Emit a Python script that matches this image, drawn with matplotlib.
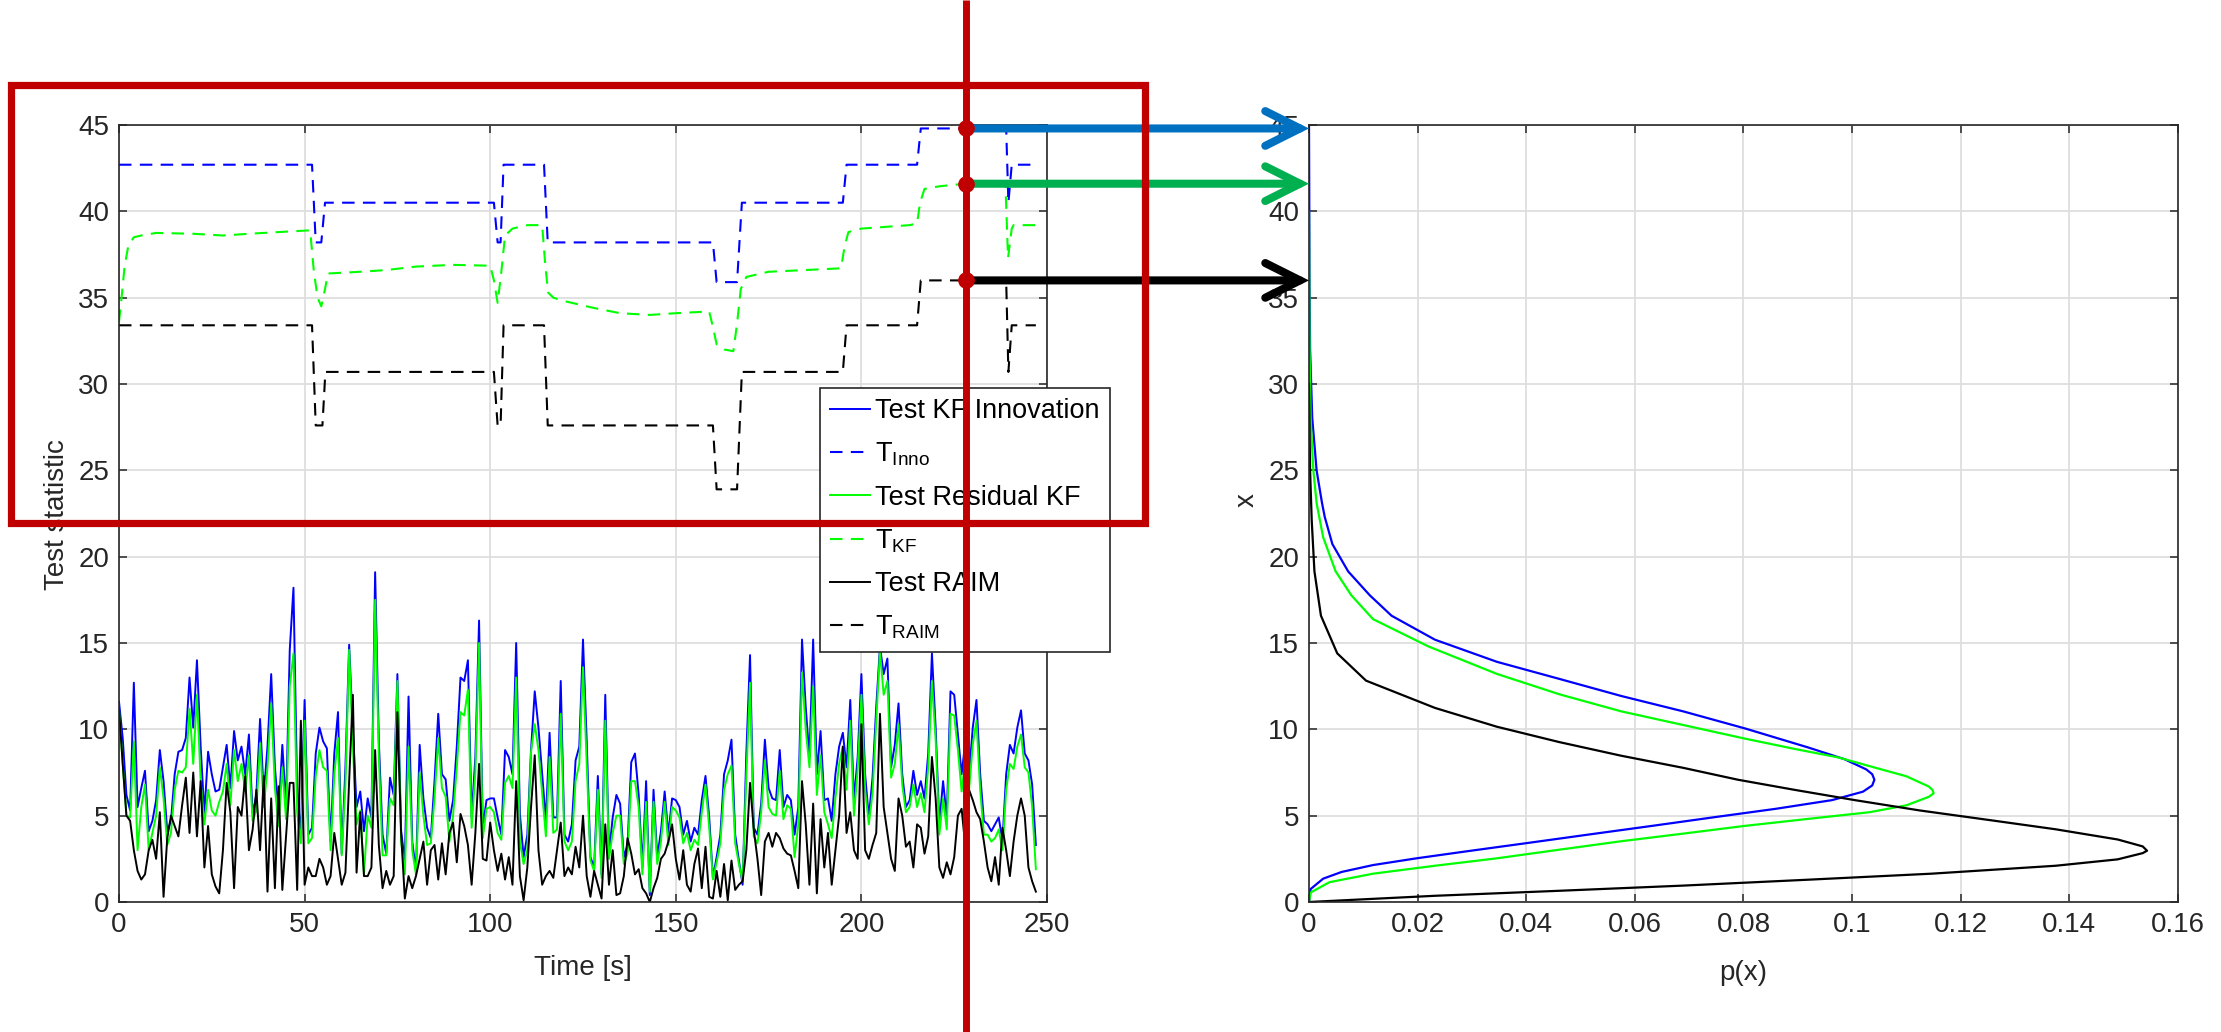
import numpy as np
import matplotlib
matplotlib.use("Agg")
import matplotlib.pyplot as plt
from matplotlib.patches import Rectangle, FancyArrowPatch

# ------------------------------------------------------------------ data
time_s = np.arange(0, 248)

test_inno = [
    11.6, 9.5, 6.2, 5.3, 12.7, 5.5, 6.6, 7.6, 4.1, 4.7,
    5.9, 8.8, 7.0, 4.1, 4.7, 7.4, 8.7, 8.8, 9.5, 13.0,
    10.1, 14.0, 9.0, 5.1, 8.7, 7.4, 6.4, 6.5, 7.8, 9.1,
    6.6, 9.9, 8.2, 9.0, 7.4, 9.7, 5.1, 6.2, 10.6, 6.2,
    9.0, 13.2, 7.8, 5.1, 9.1, 5.5, 14.6, 18.2, 6.4, 3.9,
    11.7, 3.9, 4.3, 8.6, 10.1, 9.3, 8.9, 3.5, 8.6, 11.0,
    2.8, 7.8, 14.9, 10.0, 5.5, 6.4, 4.1, 6.0, 4.9, 19.1,
    9.3, 3.9, 2.8, 7.2, 6.2, 13.2, 4.1, 2.4, 11.9, 3.5,
    1.8, 9.1, 6.0, 4.3, 3.7, 7.0, 10.9, 7.4, 7.1, 4.7,
    5.9, 9.0, 13.0, 12.8, 14.0, 4.9, 8.4, 16.3, 4.3, 5.9,
    6.0, 6.0, 4.9, 3.9, 8.8, 8.4, 7.4, 15.0, 5.1, 2.6,
    3.9, 8.8, 12.2, 10.1, 7.4, 4.7, 9.8, 4.9, 4.9, 12.8,
    3.9, 3.5, 4.5, 8.2, 9.0, 15.2, 9.3, 2.6, 2.0, 7.3,
    1.6, 12.0, 2.8, 4.9, 6.2, 5.7, 2.6, 3.3, 8.1, 8.6,
    6.2, 2.0, 7.0, 0.4, 6.5, 2.6, 4.1, 6.4, 3.9, 6.0,
    5.9, 5.5, 3.9, 4.7, 3.5, 4.3, 3.9, 5.9, 7.3, 4.9,
    1.4, 2.6, 3.9, 7.4, 8.2, 9.4, 3.9, 2.4, 1.0, 8.6,
    14.3, 4.3, 3.9, 5.7, 9.4, 6.6, 6.0, 5.9, 8.8, 5.5,
    6.2, 5.9, 3.9, 5.5, 15.2, 11.3, 8.4, 15.2, 7.4, 9.9,
    5.9, 6.0, 4.7, 7.4, 9.0, 9.8, 7.8, 11.7, 5.9, 8.4,
    13.2, 7.4, 4.9, 7.2, 11.3, 14.8, 13.2, 14.1, 7.8, 9.1,
    11.5, 7.4, 5.5, 5.9, 7.6, 6.2, 7.0, 6.0, 8.6, 14.4,
    10.1, 4.5, 7.0, 4.9, 12.2, 12.0, 9.7, 7.4, 9.3, 7.4,
    10.1, 11.7, 7.4, 4.7, 4.5, 4.1, 4.5, 4.9, 3.5, 7.4,
    9.1, 8.6, 10.1, 11.1, 8.6, 8.2, 6.8, 3.3,
]

test_kf = [
    11.2, 8.0, 5.0, 4.9, 9.3, 3.0, 5.5, 6.8, 3.0, 4.0,
    5.0, 7.8, 6.0, 3.3, 4.0, 6.5, 7.6, 7.5, 7.8, 11.2,
    8.0, 12.0, 7.0, 4.5, 6.5, 5.3, 5.0, 5.8, 6.4, 8.0,
    5.6, 8.8, 7.0, 8.0, 6.4, 8.5, 4.7, 5.3, 9.2, 5.5,
    7.8, 11.5, 6.6, 4.4, 7.8, 4.8, 12.5, 14.4, 5.2, 3.4,
    10.5, 3.4, 3.7, 7.3, 8.8, 7.8, 7.6, 3.0, 7.4, 9.5,
    2.7, 6.8, 14.6, 9.0, 4.5, 5.3, 1.6, 5.0, 4.3, 17.5,
    8.4, 2.7, 2.7, 6.0, 5.6, 12.8, 3.5, 1.6, 9.0, 3.0,
    1.6, 7.5, 5.0, 3.3, 3.4, 6.0, 9.5, 6.6, 6.1, 3.5,
    5.0, 7.8, 11.0, 10.8, 12.3, 4.3, 7.5, 15.0, 3.7, 5.4,
    5.5, 5.2, 4.0, 3.6, 6.9, 7.3, 6.6, 13.0, 3.5, 2.2,
    3.0, 8.7, 10.3, 8.8, 6.3, 3.8, 8.4, 4.0, 4.2, 10.9,
    3.5, 3.0, 3.5, 7.0, 8.0, 13.6, 8.0, 2.4, 1.8, 6.5,
    1.4, 10.5, 2.5, 4.0, 5.0, 5.0, 2.2, 2.8, 7.0, 7.0,
    5.5, 1.6, 5.8, 0.6, 5.8, 2.2, 3.5, 5.8, 3.3, 5.5,
    5.3, 4.9, 3.4, 4.0, 3.0, 3.6, 3.3, 5.2, 6.8, 4.3,
    1.3, 2.3, 3.4, 6.5, 7.4, 7.9, 3.4, 2.2, 1.2, 7.3,
    12.7, 3.8, 3.4, 5.2, 8.2, 5.5, 5.1, 5.0, 7.6, 4.8,
    5.6, 5.4, 2.6, 4.5, 13.3, 10.0, 7.8, 12.5, 6.2, 8.5,
    5.2, 4.5, 3.7, 6.0, 8.0, 9.0, 6.5, 10.5, 5.0, 7.7,
    12.0, 6.5, 4.5, 6.3, 10.5, 14.5, 12.0, 12.8, 7.2, 8.0,
    10.3, 6.8, 5.2, 5.5, 6.8, 5.5, 6.3, 5.2, 7.8, 12.8,
    9.4, 3.9, 6.0, 4.2, 10.9, 10.8, 8.8, 6.4, 8.2, 6.5,
    9.1, 10.5, 6.5, 3.9, 3.9, 3.5, 3.7, 4.2, 3.0, 6.5,
    8.0, 7.7, 9.0, 9.7, 7.8, 7.5, 5.5, 1.9,
]

test_raim = [
    11.2, 8.0, 5.0, 4.7, 3.0, 1.8, 1.3, 1.6, 3.0, 3.6,
    2.5, 5.2, 0.3, 3.7, 5.0, 4.4, 3.8, 5.6, 7.2, 4.0,
    7.5, 3.8, 7.0, 2.0, 4.4, 1.6, 0.9, 0.5, 3.0, 6.9,
    5.2, 0.8, 5.5, 5.0, 7.3, 3.0, 4.2, 6.5, 3.0, 7.3,
    0.6, 6.0, 0.8, 6.7, 0.7, 3.8, 6.9, 6.9, 0.7, 10.5,
    1.0, 2.0, 1.5, 1.5, 2.5, 2.0, 1.0, 1.5, 4.0, 2.5,
    1.0, 1.7, 7.0, 12.0, 1.7, 5.2, 1.5, 1.5, 2.0, 8.8,
    3.3, 0.8, 1.8, 1.0, 1.5, 11.0, 4.0, 0.2, 1.5, 0.8,
    1.5, 2.5, 3.5, 1.0, 3.0, 3.3, 1.3, 3.4, 1.6, 4.0,
    4.6, 2.3, 5.1, 4.4, 3.3, 1.0, 4.0, 8.0, 2.5, 2.4,
    4.6, 3.0, 1.8, 2.8, 1.3, 2.6, 1.0, 7.0, 1.5, 0.1,
    2.0, 5.5, 8.5, 3.0, 1.0, 1.5, 1.8, 1.4, 3.0, 4.6,
    1.5, 2.0, 1.6, 3.2, 2.0, 5.0, 1.5, 0.3, 1.8, 1.0,
    0.2, 4.5, 1.0, 3.0, 0.4, 0.5, 1.5, 3.7, 2.8, 1.6,
    1.9, 0.8, 0.5, 0.0, 0.8, 1.4, 2.5, 2.8, 3.5, 4.5,
    2.5, 1.3, 3.0, 1.0, 0.6, 2.2, 3.1, 0.8, 3.2, 0.3,
    0.2, 1.8, 0.3, 2.2, 0.1, 2.4, 0.7, 1.0, 1.2, 3.0,
    6.9, 4.2, 2.5, 0.4, 3.5, 4.0, 3.2, 4.0, 3.7, 3.1,
    2.8, 2.7, 1.8, 0.8, 7.0, 4.5, 1.0, 5.7, 0.5, 4.8,
    2.0, 4.0, 1.0, 3.0, 5.0, 9.0, 4.0, 5.2, 3.0, 2.5,
    10.3, 3.0, 2.5, 3.3, 4.0, 10.9, 5.5, 4.0, 2.5, 1.8,
    6.0, 5.0, 3.2, 3.5, 2.0, 4.5, 4.3, 2.8, 3.8, 8.4,
    6.0, 2.0, 1.4, 2.3, 1.6, 2.6, 5.0, 5.4, 3.2, 6.5,
    5.9, 5.2, 4.8, 3.5, 2.0, 1.2, 2.6, 1.0, 4.3, 3.0,
    1.5, 3.5, 5.0, 6.0, 5.0, 2.0, 1.2, 0.6,
]

thr_inno_t = [0, 52, 53, 54.5, 55.5, 101, 102, 102.8, 103.6, 114.5, 115.5, 160, 161,
              166.5, 167.8, 195, 196, 215, 216, 239, 239.6, 240.5, 247]
thr_inno = [42.7, 42.7, 38.2, 38.2, 40.5, 40.5, 38.2, 38.2, 42.7, 42.7, 38.2, 38.2, 35.9,
            35.9, 40.5, 40.5, 42.7, 42.7, 44.8, 44.8, 40.5, 42.7, 42.7]

thr_kf_t = [0, 0.6, 1.5, 2.5, 4, 6, 10, 20, 28, 35, 43, 51.5, 52.5, 53.5, 54.5, 55.5,
            56.3, 65, 72, 80, 90, 100, 101, 102, 103, 104, 106, 110, 114, 114.8, 115.6,
            117, 120, 128, 135, 143, 150, 159, 160, 161, 163, 165.5, 166.5, 167.5, 169,
            175, 185, 194.5, 195.5, 196.5, 200, 213, 215, 215.8, 217, 221, 228, 238.8,
            239.5, 240.5, 241, 247]
thr_kf = [33.6, 34.8, 36.8, 38.0, 38.5, 38.6, 38.75, 38.7, 38.6, 38.7, 38.8, 38.9, 36.5,
          35.0, 34.5, 35.5, 36.4, 36.5, 36.6, 36.8, 36.9, 36.85, 36.0, 34.7, 36.5, 38.6,
          39.0, 39.2, 39.2, 37.0, 35.3, 35.0, 34.8, 34.4, 34.1, 34.0, 34.1, 34.2, 33.3,
          32.3, 32.0, 31.9, 33.5, 35.5, 36.2, 36.5, 36.6, 36.7, 38.0, 38.8, 39.0, 39.2,
          39.3, 40.5, 41.3, 41.45, 41.6, 41.6, 37.3, 39.0, 39.2, 39.2]

thr_raim_t = [0, 52, 53, 54.8, 55.6, 101, 102, 102.8, 103.6, 114.5, 115.5, 160, 161,
              166.5, 167.8, 195, 196, 215, 216, 239, 239.6, 240.5, 247]
thr_raim = [33.4, 33.4, 27.6, 27.6, 30.7, 30.7, 27.6, 27.6, 33.4, 33.4, 27.6, 27.6, 23.9,
            23.9, 30.7, 30.7, 33.4, 33.4, 36.0, 36.0, 30.7, 33.4, 33.4]

# probability densities (right panel)
pdf_inno_x = [0, 0.75, 1.35, 1.74, 2.14, 2.53, 2.93, 3.42, 3.92, 4.41, 4.91, 5.40, 5.90,
              6.39, 6.75, 7.08, 7.40, 7.68, 8.27, 8.96, 10.05, 11.04, 11.93, 12.92, 13.91,
              15.19, 16.58, 17.76, 19.15, 20.73, 22.3, 23.1, 25, 28, 32, 36, 45]
pdf_inno_p = [0, 0.0003, 0.0026, 0.006, 0.0118, 0.0198, 0.0289, 0.0403, 0.0518, 0.0632,
              0.0746, 0.086, 0.0963, 0.102, 0.1037, 0.1041, 0.1037, 0.1026, 0.0986, 0.0918,
              0.0803, 0.0689, 0.0575, 0.0461, 0.0346, 0.0232, 0.0152, 0.0112, 0.0072,
              0.0043, 0.0029, 0.0024, 0.0014, 0.0006, 0.0002, 0.0001, 0.0]

pdf_kf_x = [0, 0.55, 1.15, 1.64, 2.10, 2.53, 3.03, 3.52, 3.96, 4.41, 4.81, 5.20, 5.60,
            6.09, 6.29, 6.49, 6.69, 7.28, 7.87, 8.37, 8.86, 9.46, 10.25, 11.04, 12.03,
            13.21, 14.80, 16.38, 17.76, 19.15, 21.13, 23.1, 25, 28, 32, 40]
pdf_kf_p = [0, 0.0003, 0.0038, 0.0118, 0.0232, 0.0346, 0.0461, 0.0575, 0.0689, 0.0803,
            0.0918, 0.1032, 0.110, 0.1141, 0.115, 0.1148, 0.1141, 0.110, 0.1032, 0.0975,
            0.0895, 0.0803, 0.0689, 0.0575, 0.0461, 0.0346, 0.0220, 0.0118, 0.0078,
            0.0049, 0.0026, 0.0014, 0.0008, 0.0003, 0.0001, 0.0]

pdf_raim_x = [0, 0.36, 0.65, 0.95, 1.29, 1.64, 2.10, 2.47, 2.83, 2.97, 3.22, 3.62, 4.21,
              4.71, 5.30, 5.90, 6.49, 7.08, 7.77, 8.47, 9.26, 10.15, 11.24, 12.82, 14.40,
              16.58, 19.15, 22.1, 25, 30]
pdf_raim_p = [0, 0.0232, 0.0461, 0.0689, 0.0918, 0.1146, 0.1375, 0.1489, 0.1535, 0.1543,
              0.1535, 0.1489, 0.1375, 0.1261, 0.1125, 0.1005, 0.0895, 0.079, 0.0689,
              0.0575, 0.0461, 0.0346, 0.0232, 0.0105, 0.0052, 0.0022, 0.0010, 0.0005,
              0.0002, 0.0]

t_sel = 228.3  # time instant highlighted by the red marker line

# ------------------------------------------------------------------ style
plt.rcParams['font.family'] = ['Liberation Sans', 'DejaVu Sans']
plt.rcParams['mathtext.fontset'] = 'custom'
plt.rcParams['mathtext.rm'] = 'Liberation Sans'
plt.rcParams['mathtext.it'] = 'Liberation Sans:italic'
plt.rcParams['mathtext.bf'] = 'Liberation Sans:bold'

W, H = 2221, 1032
fig = plt.figure(figsize=(W / 100, H / 100), dpi=100)
fig.patch.set_facecolor('white')

AX_COL = '#262626'
GRID_COL = '#dedede'
FS = 20


def px_rect(x0, y0, x1, y1):
    return [x0 / W, 1 - y1 / H, (x1 - x0) / W, (y1 - y0) / H]


def style_axes(ax):
    for s in ax.spines.values():
        s.set_color(AX_COL)
        s.set_linewidth(1.2)
    ax.tick_params(direction='in', length=6, width=1.1, colors=AX_COL,
                   labelsize=FS, top=True, right=True, pad=7)
    ax.grid(True, color=GRID_COL, linewidth=1.3)
    ax.set_axisbelow(True)


ax1 = fig.add_axes(px_rect(119, 125, 1047, 902))
ax2 = fig.add_axes(px_rect(1309, 125, 2178, 902))

# left panel
dash = dict(linestyle=(0, (6, 4)), linewidth=1.5)
l1, = ax1.plot(time_s, test_inno, color=(0, 0, 1), lw=1.4)
l2, = ax1.plot(thr_inno_t, thr_inno, color=(0, 0, 1), **dash)
l3, = ax1.plot(time_s, test_kf, color=(0, 1, 0), lw=1.4)
l4, = ax1.plot(thr_kf_t, thr_kf, color=(0, 1, 0), **dash)
l5, = ax1.plot(time_s, test_raim, color='black', lw=1.4)
l6, = ax1.plot(thr_raim_t, thr_raim, color='black', **dash)
ax1.set_xlim(0, 250)
ax1.set_ylim(0, 45)
ax1.set_xticks(np.arange(0, 251, 50))
ax1.set_yticks(np.arange(0, 46, 5))
style_axes(ax1)

leg = ax1.legend([l1, l2, l3, l4, l5, l6],
                 ['Test KF Innovation', r'T$_{\mathrm{Inno}}$', 'Test Residual KF',
                  r'T$_{\mathrm{KF}}$', 'Test RAIM', r'T$_{\mathrm{RAIM}}$'],
                 loc='upper left', bbox_to_anchor=(820 / W, 1 - 388 / H),
                 bbox_transform=fig.transFigure, borderaxespad=0,
                 fontsize=FS - 0.5, frameon=True, fancybox=False, framealpha=1,
                 edgecolor=AX_COL, borderpad=0.38, handlelength=1.45,
                 handletextpad=0.2, labelspacing=0.61)
leg.get_frame().set_linewidth(1.2)
leg.set_zorder(5)

# right panel
ax2.plot(pdf_inno_p, pdf_inno_x, color=(0, 0, 1), lw=1.6)
ax2.plot(pdf_kf_p, pdf_kf_x, color=(0, 1, 0), lw=1.6)
ax2.plot(pdf_raim_p, pdf_raim_x, color='black', lw=1.6)
ax2.set_xlim(0, 0.16)
ax2.set_ylim(0, 45)
ax2.set_xticks(np.arange(0, 0.161, 0.02))
ax2.set_xticklabels(['%g' % round(v, 2) for v in np.arange(0, 0.161, 0.02)])
ax2.set_yticks(np.arange(0, 46, 5))
style_axes(ax2)

# axis labels (placed in figure pixels)
fig.text(57 / W, 1 - 515 / H, 'Test statistic', rotation=90, ha='center', va='center',
         fontsize=FS, color=AX_COL)
fig.text(583 / W, 1 - 968 / H, 'Time [s]', ha='center', va='center', fontsize=FS,
         color=AX_COL)
fig.text(1743 / W, 1 - 973 / H, 'p(x)', ha='center', va='center', fontsize=FS,
         color=AX_COL)
fig.text(1247 / W, 1 - 500 / H, 'x', rotation=90, ha='center', va='center', fontsize=FS,
         color=AX_COL)

# ------------------------------------------------------------------ overlay annotations
ov = fig.add_axes([0, 0, 1, 1], zorder=20)
ov.set_xlim(0, W)
ov.set_ylim(0, H)
ov.axis('off')
ov.patch.set_alpha(0)

RED = '#C00000'
thr_at_sel = [np.interp(t_sel, thr_inno_t, thr_inno),
              np.interp(t_sel, thr_kf_t, thr_kf),
              np.interp(t_sel, thr_raim_t, thr_raim)]
arrow_cols = ['#0070C0', '#00B050', '#000000']

x_sel = ax1.transData.transform((t_sel, 0))[0]
for v, c in zip(thr_at_sel, arrow_cols):
    p0 = ax1.transData.transform((t_sel, v))
    p1 = ax2.transData.transform((0, v))
    arr = FancyArrowPatch(tuple(p0), tuple(p1),
                          arrowstyle='->,head_length=25,head_width=12.5',
                          mutation_scale=1, lw=5.8, color=c, shrinkA=0, shrinkB=0,
                          capstyle='round', joinstyle='miter', zorder=1)
    ov.add_patch(arr)

ov.add_patch(Rectangle((11, H - 523), 1145 - 11, 523 - 85, fill=False, ec=RED, lw=5.2,
                       zorder=2))
ov.plot([x_sel, x_sel], [0, H], color=RED, lw=5.0, zorder=2, solid_capstyle='butt')
for v in thr_at_sel:
    p0 = ax1.transData.transform((t_sel, v))
    ov.plot([p0[0]], [p0[1]], 'o', ms=11, color=RED, mec=RED, zorder=3)

fig.savefig('out.png', dpi=100)
